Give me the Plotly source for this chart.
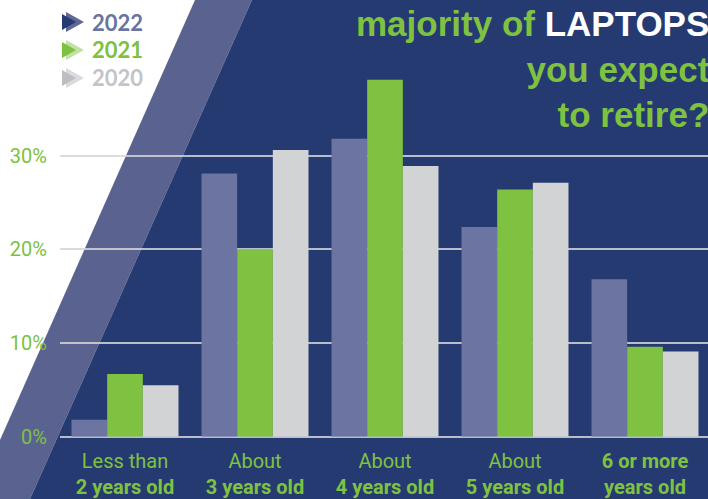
import plotly.graph_objects as go

# ---- data ----
categories = ["Less than 2 years old", "About 3 years old", "About 4 years old",
              "About 5 years old", "6 or more years old"]
tick_labels = ["Less than<br><b>2 years old</b>", "About<br><b>3 years old</b>",
               "About<br><b>4 years old</b>", "About<br><b>5 years old</b>",
               "<b>6 or more</b><br><b>years old</b>"]
series_names = ["2022", "2021", "2020"]
values_2022 = [1.8, 28.1, 31.8, 22.4, 16.8]
values_2021 = [6.7, 20.0, 38.1, 26.4, 9.6]
values_2020 = [5.5, 30.6, 28.9, 27.1, 9.1]
y_ticks = [0, 10, 20, 30]
y_tick_text = ["0%", "10%", "20%", "30%"]

# ---- styling ----
W, H = 708, 499
NAVY = "#253a71"
BAND = "#5a6390"
GREEN = "#7fc242"
GRID = "rgba(212,212,218,0.85)"
bar_colors = ["#6c74a1", GREEN, "#d2d3d5"]
legend_text_colors = ["#6b73a0", "#7dc142", "#c3c4c7"]
legend_front = [NAVY, "#7dc142", "#bdbec1"]
legend_back = ["#5e6796", "#c2e1a4", "#dadbdd"]
NARROW = "Roboto, Liberation Sans, sans-serif"


def px(x, y):
    """Pixel position -> paper coordinates (margins are zero)."""
    return x / W, 1 - y / H


def poly(points):
    coords = [px(x, y) for x, y in points]
    return "M " + " L ".join(f"{a:.5f},{b:.5f}" for a, b in coords) + " Z"


fig = go.Figure()
for name, vals, col in zip(series_names, [values_2022, values_2021, values_2020], bar_colors):
    fig.add_trace(go.Bar(x=list(range(len(categories))), y=vals, name=name,
                         marker=dict(color=col, line=dict(width=0)),
                         hovertext=categories))

shapes = [
    # light diagonal band
    dict(type="path", xref="paper", yref="paper", layer="below",
         path=poly([(195, 0), (252, 0), (30, H), (0, H), (0, 440)]),
         fillcolor=BAND, line=dict(width=0)),
    # navy panel
    dict(type="path", xref="paper", yref="paper", layer="below",
         path=poly([(252, 0), (W + 2, 0), (W + 2, H), (30, H)]),
         fillcolor=NAVY, line=dict(width=0)),
]

annotations = []
# legend: layered arrow-heads with series names
for i, name in enumerate(series_names):
    cy = 22 + 28 * i
    shapes.append(dict(type="path", xref="paper", yref="paper", layer="above",
                       path=poly([(66, cy - 10), (84, cy), (66, cy + 10)]),
                       fillcolor=legend_back[i], line=dict(width=0)))
    shapes.append(dict(type="path", xref="paper", yref="paper", layer="above",
                       path=poly([(62, cy - 8), (76, cy), (62, cy + 8)]),
                       fillcolor=legend_front[i], line=dict(width=0)))
    ax, ay = px(90, cy)
    annotations.append(dict(xref="paper", yref="paper", x=ax, y=ay, xanchor="left",
                            yanchor="middle", showarrow=False, text=f"<b>{name}</b>",
                            font=dict(family="Lato, Open Sans, sans-serif", size=22,
                                      color=legend_text_colors[i])))

# heading
tx, ty = px(712, 2)
annotations.append(dict(
    xref="paper", yref="paper", x=tx, y=ty, xanchor="right", yanchor="top",
    align="right", showarrow=False,
    text=("<b>majority of <span style='color:#ffffff'>LAPTOPS</span></b><br>"
          "<b>you expect</b><br><b>to retire?</b>"),
    font=dict(family="Liberation Sans, Arial, sans-serif", size=35, color=GREEN)))

y0_px, px_per_pct = 436.7, 9.367
fig.update_layout(
    width=W, height=H,
    margin=dict(l=0, r=0, t=0, b=0),
    paper_bgcolor="#ffffff", plot_bgcolor="rgba(0,0,0,0)",
    barmode="group", bargap=0.177, bargroupgap=0,
    showlegend=False,
    shapes=shapes, annotations=annotations,
    xaxis=dict(domain=[60 / W, 1], range=[-0.5, (W - 60) / 130 - 0.5],
               automargin=False,
               tickmode="array", tickvals=list(range(len(categories))),
               ticktext=tick_labels, showgrid=False, zeroline=False, showline=False,
               ticks="", ticklabelstandoff=10,
               tickfont=dict(family=NARROW, size=20, color=GREEN)),
    yaxis=dict(domain=[(H - y0_px) / H, 1], range=[0, y0_px / px_per_pct],
               automargin=False,
               tickmode="array", tickvals=y_ticks, ticktext=y_tick_text,
               showgrid=True, gridcolor=GRID, gridwidth=2,
               zeroline=True, zerolinecolor=GRID, zerolinewidth=2,
               showline=False, ticks="", ticklabelstandoff=12,
               tickfont=dict(family=NARROW, size=20, color="#7dc142")),
)

fig.write_html("out.html")
